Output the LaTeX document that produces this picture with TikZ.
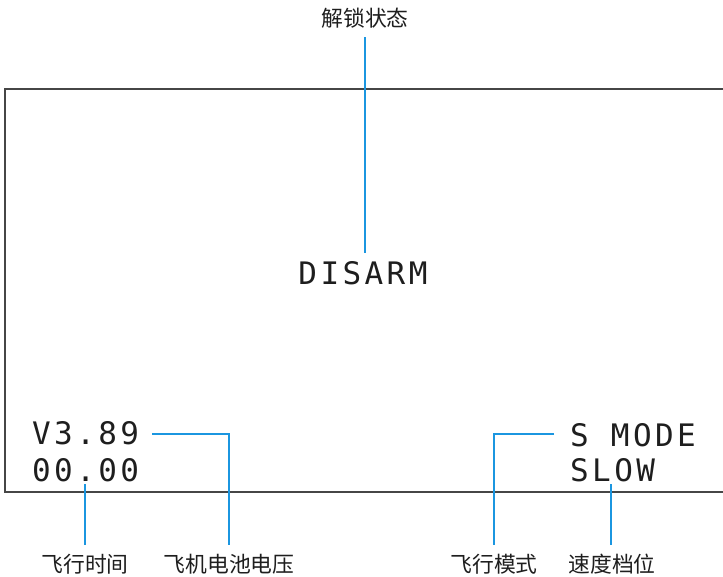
\documentclass[tikz,border=0pt]{standalone}
\usepackage{fontspec}
\newfontfamily\cjk{Noto Sans CJK SC}
\newfontfamily\lcd[LetterSpace=11]{DejaVu Sans Mono}
\definecolor{callout}{RGB}{27,150,224}
\definecolor{frame}{RGB}{70,70,70}
\definecolor{ink}{RGB}{30,30,30}
\tikzset{
  lbl/.style={font=\cjk\fontsize{21.8}{22}\selectfont, text=ink, inner sep=0pt},
  osd/.style={font=\lcd\fontsize{31}{31}\selectfont, text=ink, inner sep=0pt, anchor=base west},
  lead/.style={draw=callout, line width=1.8pt},
}
\begin{document}
\begin{tikzpicture}[x=1pt,y=-1pt]
\useasboundingbox (0,0) rectangle (723,576);
% screen frame
\draw[frame, line width=1.4pt] (740,89) -- (5,89) -- (5,492) -- (740,492);
% OSD texts
\node[osd, anchor=base] (disarm) at (363,284) {DISARM};
\node[osd] (volt) at (32,444) {V3.89};
\node[osd] (time) at (32,481) {00.00};
\node[osd] (mode) at (570,446) {S MODE};
\node[osd] (speed) at (570,481) {SLOW};
% labels
\node[lbl] (lunlock) at (365,18.5) {解锁状态};
\node[lbl] (ltime) at (85,564) {飞行时间};
\node[lbl] (lvolt) at (229,564) {飞机电池电压};
\node[lbl] (lmode) at (494,564) {飞行模式};
\node[lbl] (lspeed) at (612,564) {速度档位};
% anchor coordinates
\coordinate (cu1) at (365,37);
\coordinate (cu2) at (365,253);
\coordinate (cv1) at (152,434);
\coordinate (cv2) at (229,434);
\coordinate (cv3) at (229,545);
\coordinate (ct1) at (85,484);
\coordinate (ct2) at (85,545);
\coordinate (cm1) at (554,434);
\coordinate (cm2) at (494,434);
\coordinate (cm3) at (494,545);
\coordinate (cs1) at (611,484);
\coordinate (cs2) at (611,545);
% leaders
\draw[lead] (cu1) -- (cu2);
\draw[lead] (cv1) -- (cv2) -- (cv3);
\draw[lead] (ct1) -- (ct2);
\draw[lead] (cm1) -- (cm2) -- (cm3);
\draw[lead] (cs1) -- (cs2);
\end{tikzpicture}
\end{document}
